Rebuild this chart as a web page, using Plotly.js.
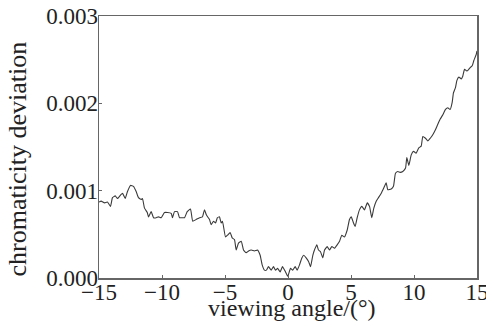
<!DOCTYPE html>
<html>
<head>
<meta charset="utf-8">
<script src="https://cdn.plot.ly/plotly-3.0.1.min.js"></script>
<style>html,body{margin:0;padding:0;background:#fff;}#chart{width:486px;height:323px;}</style>
</head>
<body>
<div id="chart"></div>
<script>
const angle = [-15.0,-14.83,-14.56,-14.33,-14.09,-13.93,-13.71,-13.53,-13.29,-13.13,-12.92,-12.74,-12.5,-12.26,-12.05,-11.87,-11.65,-11.55,-11.39,-11.17,-11.07,-10.86,-10.67,-10.46,-10.28,-10.06,-9.8,-9.56,-9.27,-9.17,-9.01,-8.77,-8.61,-8.37,-8.21,-8.0,-7.74,-7.56,-7.29,-7.02,-6.79,-6.63,-6.47,-6.23,-6.1,-5.91,-5.75,-5.6,-5.44,-5.3,-5.2,-4.96,-4.8,-4.59,-4.43,-4.25,-4.11,-3.93,-3.71,-3.53,-3.32,-3.13,-2.92,-2.66,-2.42,-2.21,-2.05,-1.87,-1.71,-1.55,-1.33,-1.15,-0.99,-0.83,-0.62,-0.44,-0.2,-0.02,0.2,0.38,0.57,0.73,0.91,1.1,1.25,1.44,1.63,1.79,1.97,2.1,2.29,2.42,2.58,2.76,2.9,3.11,3.29,3.48,3.69,3.9,4.09,4.27,4.48,4.7,4.88,5.02,5.2,5.33,5.49,5.67,5.86,6.07,6.29,6.47,6.65,6.81,7.0,7.18,7.4,7.6,7.79,7.92,8.19,8.37,8.53,8.71,8.9,9.11,9.33,9.43,9.59,9.78,9.96,10.17,10.38,10.57,10.7,10.91,11.1,11.29,11.49,11.71,11.89,12.08,12.29,12.5,12.68,12.87,13.03,13.13,13.29,13.4,13.56,13.75,13.87,14.01,14.19,14.35,14.46,14.62,14.75,14.94,15.0];
const deviation = [0.00087,0.00088,0.00086,0.00087,0.00082,0.00092,0.00094,0.00091,0.00095,0.00097,0.00091,0.00099,0.00106,0.00105,0.00099,0.00092,0.0009,0.00091,0.0008,0.00075,0.0007,0.00076,0.00069,0.00069,0.0007,0.00069,0.00075,0.00075,0.00074,0.00069,0.00076,0.00076,0.00069,0.00069,0.00069,0.00076,0.00079,0.00065,0.00067,0.00069,0.0007,0.00078,0.00072,0.00067,0.00061,0.00065,0.00063,0.00069,0.0007,0.00063,0.00065,0.00047,0.00049,0.00052,0.00046,0.00044,0.00032,0.0004,0.00042,0.00032,0.00029,0.00031,0.00032,0.00031,0.00032,0.00026,0.00015,0.00009,0.00009,0.00013,0.00009,0.00013,0.00009,0.00011,0.00007,0.00013,0.00007,0.00002,0.00011,0.00009,0.00013,0.00009,0.00015,0.00023,0.00026,0.00023,0.00019,0.00013,0.00026,0.00032,0.00038,0.00032,0.0003,0.00023,0.00032,0.00036,0.00032,0.00036,0.00034,0.00038,0.00042,0.00049,0.00047,0.00055,0.00067,0.0007,0.00063,0.00059,0.00069,0.00078,0.00082,0.00078,0.00086,0.00082,0.00069,0.0008,0.00088,0.00092,0.00097,0.00103,0.00109,0.00101,0.00102,0.00105,0.0012,0.00122,0.00121,0.00122,0.00126,0.00138,0.00129,0.00141,0.00145,0.00143,0.00149,0.00151,0.00162,0.0016,0.00157,0.0016,0.00164,0.0017,0.00176,0.00182,0.00187,0.00193,0.00195,0.00193,0.00201,0.00212,0.00218,0.00226,0.0023,0.00228,0.00231,0.00239,0.00237,0.00239,0.00241,0.00243,0.00249,0.00256,0.0026];
const xTicks = [-15,-10,-5,0,5,10,15];
const xTickText = ['\u221215','\u221210','\u22125','0','5','10','15'];
const yTicks = [0,0.001,0.002,0.003];
const yTickText = ['0.000','0.001','0.002','0.003'];
const xTitle = 'viewing angle/(\u00b0)';
const yTitle = 'chromaticity deviation';

const family = '"Liberation Serif", "DejaVu Serif", serif';
const tickFont = {family: family, size: 23, color: '#222'};
const xTitleFont = {family: family, size: 24, color: '#222'};
const yTitleFont = {family: family, size: 26, color: '#222'};
const data = [{
  x: angle, y: deviation, type: 'scatter', mode: 'lines',
  line: {color: '#3a3a3a', width: 1.1, shape: 'spline', smoothing: 0.4}
}];
const layout = {
  width: 486, height: 323,
  margin: {l: 99, r: 9, t: 16, b: 45},
  paper_bgcolor: '#fff', plot_bgcolor: '#fff',
  showlegend: false,
  font: tickFont,
  xaxis: {
    range: [-15, 15], tickvals: xTicks, ticktext: xTickText,
    showgrid: false, zeroline: false, showline: true, mirror: true,
    linecolor: '#666', linewidth: 1.5, ticks: 'inside', ticklen: 3, tickcolor: '#666',
    tickfont: tickFont, ticklabeloverflow: 'allow', ticklabelstandoff: -7
  },
  yaxis: {
    range: [0, 0.003], tickvals: yTicks, ticktext: yTickText,
    showgrid: false, zeroline: false, showline: true, mirror: true,
    linecolor: '#666', linewidth: 1.5, ticks: 'inside', ticklen: 3, tickcolor: '#666',
    tickfont: tickFont, ticklabeloverflow: 'allow', ticklabelstandoff: -5
  },
  annotations: [{
    text: yTitle, textangle: -90, showarrow: false,
    xref: 'paper', yref: 'paper', x: -0.215, y: 0.455,
    xanchor: 'center', yanchor: 'middle', font: yTitleFont
  }, {
    text: xTitle, showarrow: false,
    xref: 'paper', yref: 'paper', x: 0.51, y: -0.1145,
    xanchor: 'center', yanchor: 'middle', font: xTitleFont
  }]
};
Plotly.newPlot('chart', data, layout, {displayModeBar: false, staticPlot: true});
</script>
</body>
</html>
